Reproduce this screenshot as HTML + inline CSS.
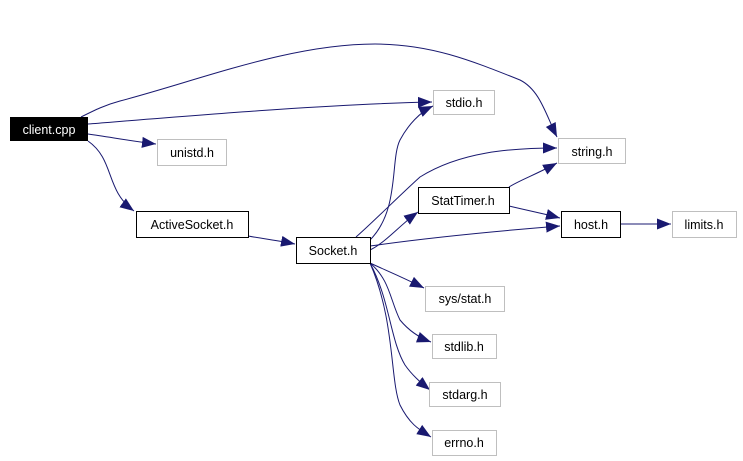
<!DOCTYPE html>
<html><head><meta charset="utf-8"><style>
html,body{margin:0;padding:0;background:#fff;}
svg{display:block;}
text{font-family:"Liberation Sans",sans-serif;font-size:12.5px;}
</style></head><body>
<svg width="743" height="461" viewBox="0 0 743 461" xmlns="http://www.w3.org/2000/svg">
<defs>
<marker id="a" markerWidth="16" markerHeight="12" refX="14" refY="6" orient="auto" markerUnits="userSpaceOnUse">
<path d="M0,0.5 L14,6 L0,11.5 Z" fill="#191970"/>
</marker>
</defs>
<g fill="none" stroke="#191970" stroke-width="1" marker-end="url(#a)">
<path d="M81,117 C95,110 105,105 120,101 C200,80 290,44 375,44 C430,44 470,60 520,80 C540,90 546,115 557,137"/>
<path d="M88,124 C200,115 330,104 432,102"/>
<path d="M88,134 C110,137 130,141 156,144"/>
<path d="M88,141 C115,160 105,190 134,211"/>
<path d="M248,236 C265,239 280,241 295,244"/>
<path d="M370,240 C400,210 390,160 400,140 C408,125 420,112 433,106"/>
<path d="M356,237 C370,225 400,195 420,177 C460,152 510,148 557,148"/>
<path d="M370,250 C385,243 400,225 418,212"/>
<path d="M370,246 C440,236 510,230 560,226"/>
<path d="M509,187 C520,180 535,175 557,163"/>
<path d="M509,206 C530,211 545,214 560,218"/>
<path d="M620,224 L671,224"/>
<path d="M370,263 C385,270 400,276 424,288"/>
<path d="M370,263 C390,280 390,300 400,320 C410,332 420,338 431,342"/>
<path d="M370,263 C390,300 390,340 405,365 C412,375 420,382 430,390"/>
<path d="M370,263 C395,320 390,380 400,405 C410,425 420,430 431,437"/>
</g>
<rect x="10" y="117" width="78" height="24" fill="#000"/>
<text x="49" y="134" text-anchor="middle" fill="#fff">client.cpp</text>
<g fill="#fff" stroke="#bfbfbf">
<rect x="157.5" y="139.5" width="69" height="26"/>
<rect x="433.5" y="90.5" width="61" height="24"/>
<rect x="558.5" y="138.5" width="67" height="25"/>
<rect x="672.5" y="211.5" width="64" height="26"/>
<rect x="425.5" y="286.5" width="79" height="25"/>
<rect x="432.5" y="334.5" width="64" height="24"/>
<rect x="429.5" y="382.5" width="71" height="24"/>
<rect x="432.5" y="430.5" width="64" height="25"/>
</g>
<g fill="#fff" stroke="#000">
<rect x="136.5" y="211.5" width="112" height="26"/>
<rect x="296.5" y="237.5" width="74" height="26"/>
<rect x="418.5" y="187.5" width="91" height="26"/>
<rect x="561.5" y="211.5" width="59" height="26"/>
</g>
<g fill="#000" text-anchor="middle">
<text x="192" y="157">unistd.h</text>
<text x="464" y="107">stdio.h</text>
<text x="592" y="156">string.h</text>
<text x="704" y="229">limits.h</text>
<text x="465" y="303">sys/stat.h</text>
<text x="464" y="351">stdlib.h</text>
<text x="465" y="399">stdarg.h</text>
<text x="464" y="447">errno.h</text>
<text x="192" y="229">ActiveSocket.h</text>
<text x="333" y="255">Socket.h</text>
<text x="463" y="205">StatTimer.h</text>
<text x="591" y="229">host.h</text>
</g>
</svg>
</body></html>
